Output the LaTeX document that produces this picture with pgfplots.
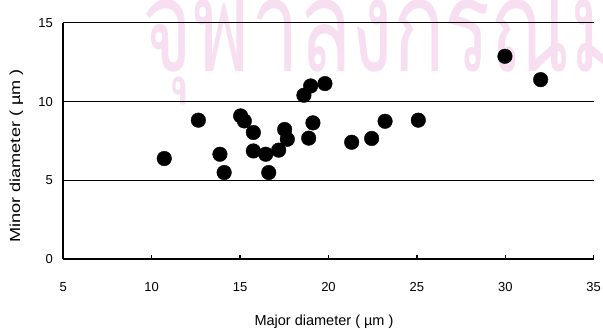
\documentclass[border=0pt]{standalone}
\usepackage{pgfplots}
\pgfplotsset{compat=1.18}
\usepackage{fontspec}
\setmainfont{Liberation Sans}
\newfontfamily\thaifont[Script=Thai]{Loma}
\definecolor{wm}{RGB}{247,222,240}
\pgfplotstableread{
x y
10.71 6.39
12.64 8.82
13.86 6.66
14.10 5.50
15.03 9.09
15.24 8.77
15.75 8.04
15.75 6.87
16.45 6.66
16.62 5.50
17.18 6.92
17.52 8.23
17.67 7.61
18.61 10.40
18.99 10.99
19.80 11.14
19.12 8.65
18.88 7.68
21.31 7.42
22.44 7.66
23.20 8.75
25.08 8.82
29.98 12.87
32.00 11.39
}\datatable
\begin{document}
\begin{tikzpicture}[x=1pt,y=1pt]
\useasboundingbox (-63.3,-69.7) rectangle (539.7,259.3);
\node[anchor=base west, inner sep=0, text=wm, font=\thaifont\fontsize{85.5}{95}\selectfont, yscale=1.5] at (79,187.3) {จุฬาลงกรณ์มหาวิทยาลัย};
\begin{axis}[
  at={(0,0)}, anchor=south west,
  scale only axis, width=530.4pt, height=236.6pt,
  xmin=5, xmax=35, ymin=0, ymax=15,
  xtick={5,10,...,35}, ytick={0,5,10,15},
  axis x line*=bottom, axis y line*=left,
  axis line style={line width=2pt, -},
  ymajorgrids, grid style={black, line width=1pt},
  tick align=inside, major tick length=4.5pt,
  tick style={black, line width=1.5pt},
  /pgf/number format/assume math mode=true,
  xticklabel style={font=\fontsize{13}{15}\selectfont, yshift=-20pt},
  yticklabel style={font=\fontsize{13}{15}\selectfont, xshift=-7pt},
  xlabel={Major diameter ( µm )},
  ylabel={Minor diameter ( µm )},
  xlabel style={font=\fontsize{14.5}{16}\selectfont, at={(rel axis cs:0.5,0)}, anchor=center, yshift=-62.2pt, xshift=-4.5pt},
  ylabel style={font=\fontsize{14.5}{16}\selectfont, at={(rel axis cs:0,0.437)}, anchor=center, yshift=46.8pt, xscale=1.25},
  clip=false,
]
\addplot[only marks, mark=*, mark size=7.3pt, mark options={fill=black, draw=black}] table[x=x,y=y] {\datatable};
\end{axis}
\end{tikzpicture}
\end{document}
